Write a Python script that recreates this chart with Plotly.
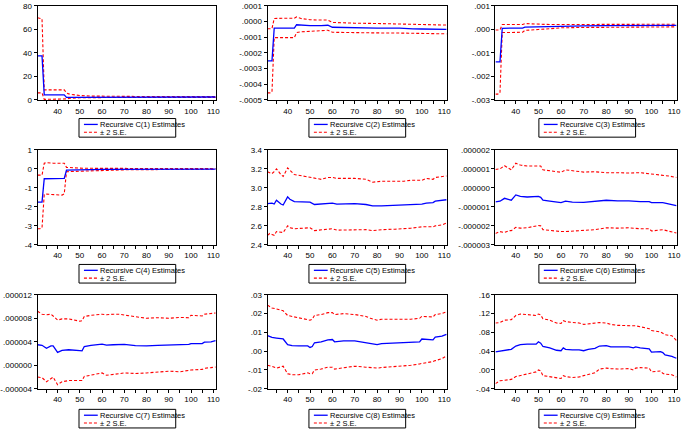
import plotly.graph_objects as go

W, H = 684, 431

# ---- recursive coefficient estimates (observation, estimate, +2SE, -2SE) ----
c1_x = [31, 32, 33, 34, 35, 40, 43, 44, 45, 47, 50, 55, 60, 70, 80, 90, 100, 111]
c1_est = [37.5, 37.5, 37.5, 4.3, 4.3, 4.3, 4.3, 2.2, 2.2, 2.3, 2.5, 2.6, 2.6, 2.5, 2.5, 2.5, 2.5, 2.5]
c1_up = [70.0, 69.5, 69.0, 8.6, 8.6, 8.6, 8.6, 6.0, 5.2, 4.5, 3.8, 3.3, 3.1, 3.0, 2.9, 2.9, 2.8, 2.8]
c1_lo = [6.0, 6.0, 6.0, 0.5, 0.5, 0.5, 0.5, 0.9, 1.3, 1.6, 1.9, 2.0, 2.1, 2.1, 2.1, 2.2, 2.2, 2.2]

c2_x = [31, 32, 33, 34, 36, 40, 43, 44, 46, 50, 55, 58, 60, 65, 70, 80, 90, 94, 96, 100, 111]
c2_est = [-25e-5, -25e-5, -25e-5, -4.2e-5, -4.2e-5, -4.2e-5, -4.2e-5, -2.0e-5, -2.3e-5, -2.6e-5, -2.5e-5,
          -2.3e-5, -3.6e-5, -3.8e-5, -4.0e-5, -4.1e-5, -4.2e-5, -4.2e-5, -4.6e-5, -4.7e-5, -4.9e-5]
c2_up = [-4.5e-5, -4.5e-5, -4.5e-5, 2.0e-5, 2.2e-5, 2.2e-5, 2.2e-5, 3.0e-5, 2.0e-5, 1.2e-5, 1.0e-5,
         1.0e-5, -0.5e-5, -0.8e-5, -1.0e-5, -1.2e-5, -1.5e-5, -1.6e-5, -1.8e-5, -2.0e-5, -2.2e-5]
c2_lo = [-45.5e-5, -45.5e-5, -45e-5, -10.2e-5, -10.2e-5, -10.2e-5, -10.2e-5, -7.0e-5, -6.5e-5, -6.2e-5, -6.0e-5,
         -5.5e-5, -6.8e-5, -7.0e-5, -7.1e-5, -7.2e-5, -7.3e-5, -7.4e-5, -7.6e-5, -7.7e-5, -7.8e-5]

c3_x = [31, 32, 33, 34, 36, 40, 43, 44, 46, 50, 55, 60, 70, 80, 90, 100, 111]
c3_est = [-13.8e-4, -13.8e-4, -13.8e-4, 0.5e-4, 0.55e-4, 0.6e-4, 0.6e-4, 1.0e-4, 1.05e-4, 1.1e-4, 1.2e-4,
          1.4e-4, 1.5e-4, 1.6e-4, 1.6e-4, 1.7e-4, 1.7e-4]
c3_up = [-0.2e-4, -0.2e-4, -0.2e-4, 2.1e-4, 2.1e-4, 2.1e-4, 2.1e-4, 2.5e-4, 2.4e-4, 2.2e-4, 2.1e-4,
         2.1e-4, 2.2e-4, 2.2e-4, 2.2e-4, 2.2e-4, 2.2e-4]
c3_lo = [-27.5e-4, -27.5e-4, -27.0e-4, -1.3e-4, -1.3e-4, -1.3e-4, -1.2e-4, -0.4e-4, -0.2e-4, 0.0, 0.3e-4,
         0.7e-4, 0.85e-4, 0.95e-4, 1.0e-4, 1.05e-4, 1.1e-4]

c4_x = [31, 32, 33, 34, 35, 38, 42, 43, 44, 46, 50, 55, 60, 70, 80, 90, 100, 111]
c4_est = [-1.75, -1.75, -1.75, -0.52, -0.52, -0.52, -0.52, -0.5, -0.07, -0.06, -0.05, -0.04, -0.03, -0.02,
          -0.02, -0.01, -0.01, -0.01]
c4_up = [-0.33, -0.33, -0.33, 0.30, 0.33, 0.30, 0.33, 0.30, 0.08, 0.06, 0.04, 0.03, 0.03, 0.02, 0.02, 0.01,
         0.01, 0.01]
c4_lo = [-3.15, -3.15, -3.10, -1.35, -1.33, -1.36, -1.38, -1.32, -0.15, -0.14, -0.12, -0.10, -0.08, -0.05,
         -0.04, -0.03, -0.03, -0.02]

c5_x = [31, 32, 33, 34, 35, 37, 38, 40, 41, 43, 48, 50, 52, 55, 58, 60, 62, 70, 75, 78, 82, 88, 92, 95,
        100, 102, 105, 106, 109, 111]
c5_est = [2.835, 2.84, 2.84, 2.83, 2.87, 2.83, 2.82, 2.905, 2.88, 2.855, 2.85, 2.85, 2.825, 2.83, 2.84,
          2.84, 2.83, 2.835, 2.825, 2.81, 2.81, 2.815, 2.82, 2.82, 2.83, 2.84, 2.845, 2.86, 2.865, 2.875]
c5_up = [3.17, 3.16, 3.15, 3.17, 3.20, 3.14, 3.12, 3.21, 3.19, 3.14, 3.12, 3.11, 3.10, 3.09, 3.11, 3.11,
         3.10, 3.10, 3.09, 3.06, 3.07, 3.07, 3.07, 3.08, 3.08, 3.10, 3.09, 3.11, 3.115, 3.125]
c5_lo = [2.50, 2.52, 2.51, 2.50, 2.54, 2.53, 2.53, 2.60, 2.58, 2.57, 2.58, 2.58, 2.55, 2.56, 2.57, 2.57,
         2.555, 2.56, 2.56, 2.55, 2.56, 2.565, 2.57, 2.575, 2.59, 2.59, 2.59, 2.60, 2.61, 2.63]

c6_x = [31, 33, 35, 37, 38, 40, 42, 45, 50, 51, 52, 55, 60, 62, 65, 70, 75, 80, 85, 90, 95, 99, 100,
        105, 108, 111]
c6_est = [-0.74e-6, -0.70e-6, -0.55e-6, -0.63e-6, -0.65e-6, -0.37e-6, -0.45e-6, -0.48e-6, -0.45e-6, -0.5e-6,
          -0.65e-6, -0.70e-6, -0.78e-6, -0.70e-6, -0.75e-6, -0.76e-6, -0.70e-6, -0.65e-6, -0.68e-6,
          -0.68e-6, -0.72e-6, -0.72e-6, -0.78e-6, -0.78e-6, -0.85e-6, -0.93e-6]
c6_up = [0.97e-6, 1.0e-6, 1.17e-6, 1.05e-6, 0.95e-6, 1.30e-6, 1.20e-6, 1.15e-6, 1.12e-6, 1.15e-6, 0.95e-6,
         0.90e-6, 0.82e-6, 0.95e-6, 0.90e-6, 0.83e-6, 0.85e-6, 0.80e-6, 0.80e-6, 0.78e-6, 0.80e-6,
         0.75e-6, 0.72e-6, 0.68e-6, 0.62e-6, 0.55e-6]
c6_lo = [-2.40e-6, -2.30e-6, -2.35e-6, -2.25e-6, -2.25e-6, -2.08e-6, -2.12e-6, -2.10e-6, -1.98e-6,
         -2.0e-6, -2.20e-6, -2.25e-6, -2.30e-6, -2.30e-6, -2.28e-6, -2.25e-6, -2.20e-6, -2.10e-6,
         -2.12e-6, -2.10e-6, -2.15e-6, -2.15e-6, -2.27e-6, -2.20e-6, -2.30e-6, -2.38e-6]

c7_x = [31, 33, 35, 37, 38, 40, 42, 45, 50, 51, 52, 55, 60, 62, 65, 68, 70, 75, 80, 85, 90, 95, 99,
        100, 105, 106, 109, 111]
c7_est = [3.5e-6, 3.4e-6, 2.9e-6, 3.3e-6, 3.3e-6, 2.2e-6, 2.55e-6, 2.65e-6, 2.5e-6, 2.45e-6, 3.2e-6,
          3.4e-6, 3.6e-6, 3.45e-6, 3.5e-6, 3.6e-6, 3.55e-6, 3.35e-6, 3.3e-6, 3.4e-6, 3.45e-6, 3.5e-6,
          3.55e-6, 3.7e-6, 3.7e-6, 3.95e-6, 4.0e-6, 4.2e-6]
c7_up = [9.2e-6, 8.7e-6, 8.6e-6, 8.7e-6, 8.4e-6, 7.7e-6, 7.9e-6, 7.9e-6, 7.5e-6, 7.6e-6, 8.3e-6, 8.5e-6,
         8.7e-6, 8.6e-6, 8.7e-6, 8.7e-6, 8.55e-6, 8.3e-6, 8.0e-6, 8.1e-6, 8.0e-6, 8.15e-6, 8.1e-6, 8.5e-6,
         8.4e-6, 8.7e-6, 8.8e-6, 8.9e-6]
c7_lo = [-2.0e-6, -2.1e-6, -2.8e-6, -2.2e-6, -2.0e-6, -3.3e-6, -2.8e-6, -2.6e-6, -2.5e-6, -2.6e-6, -1.9e-6,
         -1.7e-6, -1.3e-6, -1.7e-6, -1.6e-6, -1.4e-6, -1.3e-6, -1.4e-6, -1.3e-6, -1.2e-6, -1.0e-6, -1.1e-6,
         -0.9e-6, -0.8e-6, -0.7e-6, -0.5e-6, -0.4e-6, -0.3e-6]

c8_x = [31, 33, 35, 38, 40, 42, 45, 49, 50, 51, 52, 55, 58, 60, 61, 65, 70, 75, 77, 80, 82, 85, 90, 95,
        99, 100, 105, 106, 109, 111]
c8_est = [0.0083, 0.0073, 0.0070, 0.0065, 0.0035, 0.0030, 0.0028, 0.0028, 0.0020, 0.0025, 0.0045, 0.0050,
          0.0060, 0.0062, 0.0050, 0.0055, 0.0055, 0.0045, 0.0040, 0.0035, 0.0040, 0.0042, 0.0045, 0.0045,
          0.0050, 0.0065, 0.0060, 0.0075, 0.0080, 0.0090]
c8_up = [0.0245, 0.0230, 0.0225, 0.0215, 0.0190, 0.0185, 0.0180, 0.0170, 0.0165, 0.0170, 0.0190, 0.0195,
         0.0205, 0.0205, 0.0195, 0.0200, 0.0195, 0.0185, 0.0175, 0.0165, 0.0170, 0.0170, 0.0168, 0.0170,
         0.0175, 0.0185, 0.0182, 0.0195, 0.0200, 0.0210]
c8_lo = [-0.0075, -0.0080, -0.0090, -0.0080, -0.0120, -0.0125, -0.0125, -0.0115, -0.0120, -0.0120, -0.0100,
         -0.0095, -0.0085, -0.0085, -0.0095, -0.0090, -0.0080, -0.0085, -0.0088, -0.0090, -0.0087, -0.0085,
         -0.0080, -0.0075, -0.0068, -0.0065, -0.0055, -0.0050, -0.0040, -0.0025]

c9_x = [31, 33, 35, 38, 40, 42, 45, 49, 50, 51, 52, 55, 58, 60, 61, 62, 65, 68, 70, 72, 75, 77, 80, 82,
        85, 90, 92, 93, 95, 99, 100, 104, 105, 106, 109, 111]
c9_est = [0.0386, 0.040, 0.042, 0.044, 0.051, 0.054, 0.055, 0.055, 0.060, 0.057, 0.050, 0.047, 0.042,
          0.041, 0.047, 0.044, 0.043, 0.043, 0.041, 0.044, 0.046, 0.051, 0.052, 0.049, 0.049, 0.049,
          0.047, 0.049, 0.047, 0.045, 0.038, 0.039, 0.037, 0.032, 0.029, 0.025]
c9_up = [0.100, 0.101, 0.106, 0.107, 0.116, 0.119, 0.118, 0.116, 0.119, 0.117, 0.109, 0.106, 0.100,
         0.099, 0.105, 0.103, 0.101, 0.100, 0.097, 0.098, 0.099, 0.101, 0.100, 0.097, 0.095, 0.095,
         0.094, 0.094, 0.092, 0.088, 0.084, 0.081, 0.078, 0.075, 0.073, 0.063]
c9_lo = [-0.029, -0.023, -0.022, -0.020, -0.014, -0.012, -0.009, -0.004, 0.000, -0.002, -0.012, -0.014,
         -0.016, -0.018, -0.012, -0.014, -0.016, -0.015, -0.012, -0.009, -0.006, 0.002, 0.004, 0.003,
         0.002, 0.003, 0.000, 0.004, 0.005, 0.004, -0.004, -0.002, -0.007, -0.009, -0.010, -0.015]

# ---- y axis ranges and tick labels ----
c1_yrange = [0, 80]
c1_yticks = [0, 20, 40, 60, 80]
c1_ylabels = ["0", "20", "40", "60", "80"]
c2_yrange = [-0.0005, 0.0001]
c2_yticks = [-0.0005, -0.0004, -0.0003, -0.0002, -0.0001, 0.0, 0.0001]
c2_ylabels = ["-.0005", "-.0004", "-.0003", "-.0002", "-.0001", ".0000", ".0001"]
c3_yrange = [-0.003, 0.001]
c3_yticks = [-0.003, -0.002, -0.001, 0.0, 0.001]
c3_ylabels = ["-.003", "-.002", "-.001", ".000", ".001"]
c4_yrange = [-4, 1]
c4_yticks = [-4, -3, -2, -1, 0, 1]
c4_ylabels = ["-4", "-3", "-2", "-1", "0", "1"]
c5_yrange = [2.4, 3.4]
c5_yticks = [2.4, 2.6, 2.8, 3.0, 3.2, 3.4]
c5_ylabels = ["2.4", "2.6", "2.8", "3.0", "3.2", "3.4"]
c6_yrange = [-3e-6, 2e-6]
c6_yticks = [-3e-6, -2e-6, -1e-6, 0.0, 1e-6, 2e-6]
c6_ylabels = ["-.000003", "-.000002", "-.000001", ".000000", ".000001", ".000002"]
c7_yrange = [-4e-6, 12e-6]
c7_yticks = [-4e-6, 0.0, 4e-6, 8e-6, 12e-6]
c7_ylabels = ["-.000004", ".000000", ".000004", ".000008", ".000012"]
c8_yrange = [-0.02, 0.03]
c8_yticks = [-0.02, -0.01, 0.0, 0.01, 0.02, 0.03]
c8_ylabels = ["-.02", "-.01", ".00", ".01", ".02", ".03"]
c9_yrange = [-0.04, 0.16]
c9_yticks = [-0.04, 0.0, 0.04, 0.08, 0.12, 0.16]
c9_ylabels = ["-.04", ".00", ".04", ".08", ".12", ".16"]

x_range = [31, 111.3]

panels = [
    ("C(1)", c1_x, c1_est, c1_up, c1_lo, c1_yrange, c1_yticks, c1_ylabels),
    ("C(2)", c2_x, c2_est, c2_up, c2_lo, c2_yrange, c2_yticks, c2_ylabels),
    ("C(3)", c3_x, c3_est, c3_up, c3_lo, c3_yrange, c3_yticks, c3_ylabels),
    ("C(4)", c4_x, c4_est, c4_up, c4_lo, c4_yrange, c4_yticks, c4_ylabels),
    ("C(5)", c5_x, c5_est, c5_up, c5_lo, c5_yrange, c5_yticks, c5_ylabels),
    ("C(6)", c6_x, c6_est, c6_up, c6_lo, c6_yrange, c6_yticks, c6_ylabels),
    ("C(7)", c7_x, c7_est, c7_up, c7_lo, c7_yrange, c7_yticks, c7_ylabels),
    ("C(8)", c8_x, c8_est, c8_up, c8_lo, c8_yrange, c8_yticks, c8_ylabels),
    ("C(9)", c9_x, c9_est, c9_up, c9_lo, c9_yrange, c9_yticks, c9_ylabels),
]

# pixel frames of the plot areas
col_px = [(33, 214), (266, 448), (497, 681)]
row_px = [(2, 98), (149, 246), (297, 393)]
legend_left = [75, 308, 541]
legend_top = [117, 266, 414]

BLUE = "rgb(0,0,255)"
RED = "rgb(255,0,0)"
FONT = "Arial, Liberation Sans, sans-serif"


def px(x):
    return x / W


def py(y):
    return 1 - y / H


fig = go.Figure()
shapes = []
annotations = []

for i, (name, xs, est, up, lo, yr, yt, yl) in enumerate(panels):
    r, c = divmod(i, 3)
    n = str(i + 1) if i else ""
    xa, ya = "x" + n, "y" + n

    fig.add_trace(go.Scatter(x=xs, y=up, xaxis=xa, yaxis=ya, mode="lines",
                             line=dict(color=RED, width=1.1, dash="3px,2px"),
                             showlegend=False, hoverinfo="skip"))
    fig.add_trace(go.Scatter(x=xs, y=lo, xaxis=xa, yaxis=ya, mode="lines",
                             line=dict(color=RED, width=1.1, dash="3px,2px"),
                             showlegend=False, hoverinfo="skip"))
    fig.add_trace(go.Scatter(x=xs, y=est, xaxis=xa, yaxis=ya, mode="lines",
                             line=dict(color=BLUE, width=1.3),
                             showlegend=False, name="Recursive " + name + " Estimates"))

    axis_common = dict(showline=True, linecolor="black", linewidth=1, mirror=True,
                       ticks="outside", ticklen=3, tickcolor="black", tickwidth=1,
                       showgrid=False, zeroline=False,
                       tickfont=dict(family=FONT, size=8, color="black"))
    fig.layout["xaxis" + n] = dict(domain=[px(col_px[c][0]), px(col_px[c][1])],
                                   anchor=ya, range=x_range, tick0=0, dtick=10,
                                   minor=dict(dtick=5, ticks="outside", ticklen=3,
                                              tickcolor="black", showgrid=False),
                                   **axis_common)
    fig.layout["yaxis" + n] = dict(domain=[py(row_px[r][1]), py(row_px[r][0])],
                                   anchor=xa, range=yr, tickvals=yt, ticktext=yl, **axis_common)

    # legend box drawn like the EViews one
    lx, ly = legend_left[c], legend_top[r]
    shapes.append(dict(type="rect", xref="paper", yref="paper",
                       x0=px(lx), x1=px(lx + 98), y0=py(ly + 19), y1=py(ly),
                       line=dict(color="black", width=1), fillcolor="white", layer="above"))
    shapes.append(dict(type="line", xref="paper", yref="paper",
                       x0=px(lx + 5), x1=px(lx + 19), y0=py(ly + 6), y1=py(ly + 6),
                       line=dict(color=BLUE, width=1.3)))
    shapes.append(dict(type="line", xref="paper", yref="paper",
                       x0=px(lx + 5), x1=px(lx + 19), y0=py(ly + 14), y1=py(ly + 14),
                       line=dict(color=RED, width=1.1, dash="3px,2px")))
    annotations.append(dict(xref="paper", yref="paper", x=px(lx + 19), y=py(ly + 6),
                            xanchor="left", yanchor="middle", showarrow=False,
                            text="Recursive " + name + " Estimates",
                            font=dict(family=FONT, size=7.5, color="black")))
    annotations.append(dict(xref="paper", yref="paper", x=px(lx + 19), y=py(ly + 14),
                            xanchor="left", yanchor="middle", showarrow=False,
                            text="± 2 S.E.",
                            font=dict(family=FONT, size=7.5, color="black")))

fig.update_layout(
    width=W, height=H,
    margin=dict(l=0, r=0, t=0, b=0),
    paper_bgcolor="white", plot_bgcolor="white",
    showlegend=False,
    shapes=shapes, annotations=annotations,
)

# the page body has a default 8px margin; drop it so the figure fills the window
fig.write_html("out.html", config={"displayModeBar": False},
               post_script="document.body.style.margin='0';")
